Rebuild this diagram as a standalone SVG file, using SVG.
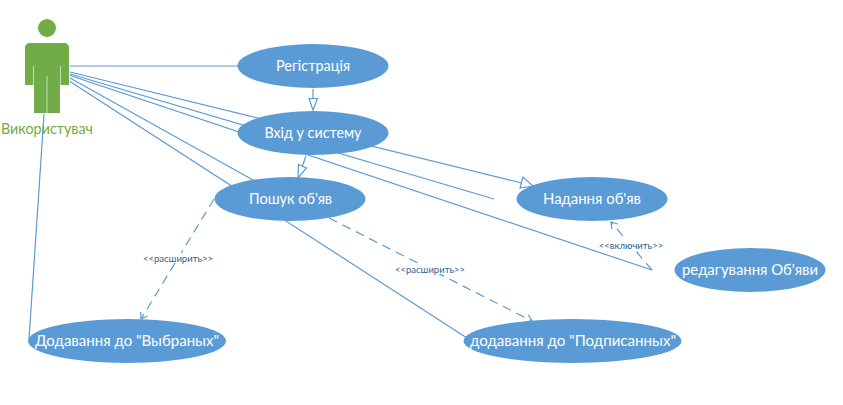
<svg xmlns="http://www.w3.org/2000/svg" width="843" height="405" viewBox="0 0 843 405">
<defs>
<marker id="open" markerUnits="userSpaceOnUse" markerWidth="14" markerHeight="14" refX="11" refY="7" orient="auto"><path d="M5 3L11 7L5 11" fill="none" stroke="#5b9bd5" stroke-width="1.200"/></marker>
</defs>
<style>
.uc{fill:#5b9bd5}
.t{font-family:Lato,"Noto Sans",sans-serif;font-size:14.800px;fill:#fff;text-anchor:middle}
.l{fill:none;stroke:#5b9bd5;stroke-width:1.2}
.d{stroke-dasharray:9 6;marker-end:url(#open)}
.g{fill:#fff;stroke:#5b9bd5;stroke-width:1.2}
.k{font-family:Lato,"Noto Sans",sans-serif;font-size:9.500px;fill:#2e5f8f;text-anchor:middle}
.a{fill:#70ad47}
</style>
<rect width="843" height="405" fill="#fff"/>
<g id="connectors">
<path class="l" d="M70 66H238"/>
<path class="l" d="M70 72L522 183"/>
<path class="g" d="M533 186L520 188L523 177Z"/>
<path class="l" d="M70 74L494 199"/>
<path class="l" d="M70 75.500L652 270"/>
<path class="l" d="M70 78L253 180"/>
<path class="l" d="M70 81.500L467 338"/>
<path class="l" d="M44 114L29 339"/>
<path class="l" d="M313 89V99"/>
<path class="g" d="M313 110L309 98.500H317.500Z"/>
<path class="l" d="M306 156L302 167"/>
<path class="g" d="M298 178L298.500 164.500L306.500 168Z"/>
<path class="l d" d="M214 199L141 319"/>
<path class="l d" d="M329 218L532 321"/>
<path class="l d" d="M652 270L611 222"/>
</g>
<g id="actor">
<circle class="a" cx="47" cy="28" r="9"/>
<path class="a" d="M28 43H66L69 46V85H60V113H34V85H25V46Z"/>
<path d="M33.500 66V85M60.500 66V85M47 76V113" stroke="#c5dcb5" stroke-width="1" fill="none"/>
<text x="47" y="134" textLength="92" lengthAdjust="spacingAndGlyphs" style="font-family:Lato,'Noto Sans',sans-serif;font-size:14.800px;fill:#70ad47;text-anchor:middle">Використувач</text>
</g>
<g id="uc-reg"><ellipse class="uc" cx="313" cy="66" rx="75.500" ry="22"/><text class="t" x="313" y="71" textLength="74" lengthAdjust="spacingAndGlyphs">Регістрація</text></g>
<g id="uc-login"><ellipse class="uc" cx="313" cy="133" rx="75.500" ry="22"/><text class="t" x="313" y="138" textLength="97" lengthAdjust="spacingAndGlyphs">Вхід у систему</text></g>
<g id="uc-search"><ellipse class="uc" cx="290" cy="199" rx="75.500" ry="22"/><text class="t" x="290.500" y="204" textLength="83" lengthAdjust="spacingAndGlyphs">Пошук об'яв</text></g>
<g id="uc-post"><ellipse class="uc" cx="592" cy="199" rx="75.500" ry="22"/><text class="t" x="592" y="204" textLength="98" lengthAdjust="spacingAndGlyphs">Надання об'яв</text></g>
<g id="uc-edit"><ellipse class="uc" cx="750" cy="270" rx="75.500" ry="22"/><text class="t" x="750" y="275" textLength="136" lengthAdjust="spacingAndGlyphs">редагування Об'яви</text></g>
<g id="uc-fav"><ellipse class="uc" cx="127" cy="341" rx="99" ry="22"/><text class="t" x="127" y="346" textLength="184" lengthAdjust="spacingAndGlyphs">Додавання до "Выбраных"</text></g>
<g id="uc-sub"><ellipse class="uc" cx="572.500" cy="341" rx="109" ry="22"/><text class="t" x="573" y="346" textLength="206" lengthAdjust="spacingAndGlyphs">додавання до "Подписанных"</text></g>
<g id="labels">
<rect x="142" y="253" width="72" height="10" fill="#fff"/><text class="k" x="178" y="261.500">&lt;&lt;расширить&gt;&gt;</text>
<rect x="394" y="264" width="72" height="10" fill="#fff"/><text class="k" x="430" y="272.500">&lt;&lt;расширить&gt;&gt;</text>
<rect x="598" y="240" width="66" height="10" fill="#fff"/><text class="k" x="631" y="248.500">&lt;&lt;включить&gt;&gt;</text>
</g>
<path d="M286 221L301 231" stroke="#7fb0dd" stroke-width="1" fill="none"/>
</svg>
